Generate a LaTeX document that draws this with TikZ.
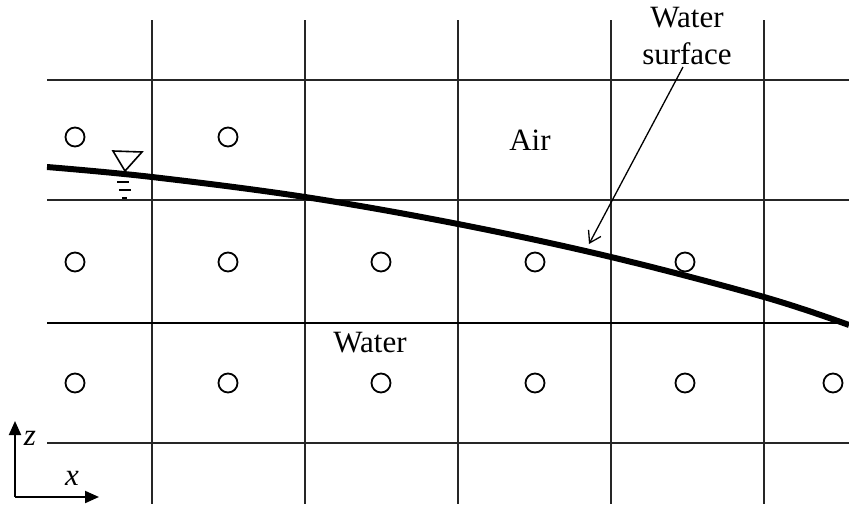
\documentclass[tikz,border=0pt]{standalone}
\usepackage{fontspec}
\setmainfont{Liberation Serif}
\usetikzlibrary{arrows.meta}
\begin{document}
\begin{tikzpicture}[x=1pt,y=-1pt,
  gridline/.style={line width=1.8pt,black!85},
  midline/.style={line width=2.6pt,black},
  surf/.style={line width=6pt,black,line cap=butt},
  cell/.style={circle,draw,line width=1.8pt,minimum size=19pt,inner sep=0pt},
  lbl/.style={font=\fontsize{31}{37}\selectfont,inner sep=0pt,align=center},
  axis/.style={line width=2pt,-{Triangle[length=14pt,width=12pt]}}]
\useasboundingbox (0,0) rectangle (849,504);
% grid
\foreach \x in {152,305,458,611,764} \draw[gridline] (\x,20) -- (\x,504);
\foreach \y in {80,200,443} \draw[gridline] (47,\y) -- (849,\y);
\draw[midline] (47,323) -- (849,323);
% cells
\foreach \x/\n in {75/a,228/b} \node[cell] (r1\n) at (\x,137) {};
\foreach \x/\n in {75/a,228/b,381/c,535/d,685/e} \node[cell] (r2\n) at (\x,262) {};
\foreach \x/\n in {75/a,228/b,381/c,535/d,685/e,833/f} \node[cell] (r3\n) at (\x,383) {};
% water surface
\draw[surf] plot[smooth,tension=0.6] coordinates {(47,167) (152,177) (305,197) (458,224) (611,257) (764,297) (849,325)};
% level symbol
\draw[line width=1.6pt,line join=miter] (113,151) -- (142,152) -- (125,171) -- cycle;
\draw[line width=1.5pt] (117,182) -- (129,182) (119,190) -- (131,190) (122,198) -- (127,198);
% labels
\node[lbl] (air) at (530,140) {Air};
\node[lbl] (water) at (370,343) {Water};
\node[lbl,anchor=north] (ws) at (687,7) {Water\\surface};
\coordinate (wstip) at (589,244);
\draw[line width=1.3pt,-{Straight Barb[length=11pt,width=14pt,line width=1.3pt]}] (ws.south) ++(-4,2) -- (wstip);
% axes
\coordinate (o) at (15,497);
\coordinate (zt) at (15,421);
\coordinate (xt) at (99,497);
\draw[axis] (o) -- (zt);
\draw[axis] (o) -- (xt);
\node[lbl,font=\fontsize{31}{37}\selectfont\itshape] (zl) at (30,438) {z};
\node[lbl,font=\fontsize{31}{37}\selectfont\itshape] (xl) at (72,478) {x};
\end{tikzpicture}
\end{document}
